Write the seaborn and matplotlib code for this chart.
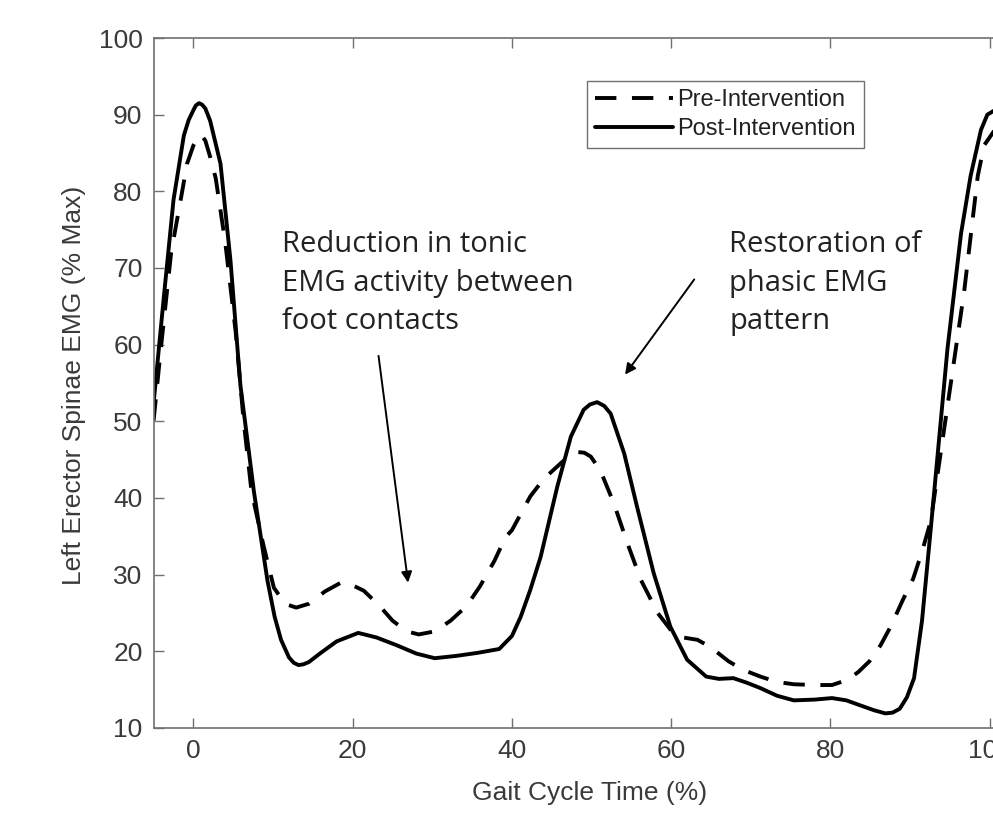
import numpy as np
import pandas as pd
import matplotlib
matplotlib.use("Agg")
import matplotlib.pyplot as plt
import seaborn as sns

# valores (Gait Cycle Time %, EMG % Max)
pre_x = [-5, -4.1, -2.8, -1.6, -0.8, 0, 0.67, 1.1, 1.5, 2.1, 2.8, 4.0, 5.3, 6.3, 7.3, 8.8, 10.1, 11.5,
         12.9, 14.5, 16.5, 18.6, 20, 21.4, 23.4, 25, 26.8, 28.3, 30.3, 32.3, 34.3, 36,
         37.8, 39.2, 40, 42.3, 44, 46.1, 47.2, 48.2, 49.1, 49.9, 51.1, 52.8, 54.5, 56.2, 58.3, 60.3,
         61.5, 63.3, 65, 67.2, 69, 71.2, 73.3, 75.4, 78, 80.2, 82.2, 83.5, 84.9, 86.3,
         87.6, 89, 90.4, 91.5, 92.6, 94.7, 96.8, 98.5, 99.3, 100.5, 101.5]
pre_y = [50.1, 59.4, 72, 78.9, 83.6, 86.0, 87.3, 87.2, 86.6, 84.5, 81.7, 73.3, 61.7, 50.1, 40.8, 33.8, 28.3, 26.2,
         25.7, 26.2, 27.8, 29.0, 28.6, 27.9, 25.9, 24.0, 22.6, 22.2, 22.6, 24.0, 25.9, 28.5,
         31.8, 34.9, 35.8, 40.2, 42.5, 44.5, 45.5, 46.0, 45.9, 45.4, 43.6, 39.3, 34.1, 29.3, 25.0, 22.3,
         21.8, 21.5, 20.5, 18.7, 17.6, 16.7, 16.0, 15.7, 15.6, 15.6, 16.3, 17.3, 18.7, 20.8,
         23.3, 26.5, 29.5, 33, 37, 52, 67, 82, 86, 87.8, 88]

post_x = [-5, -3.7, -2.5, -1.2, -0.6, 0, 0.3, 0.7, 1.1, 1.5, 2.1, 3.4, 4.65, 5.9, 7.6, 9.3, 10.2, 11, 12,
          12.6, 13.2, 13.8, 14.5, 16, 18, 20.7, 23, 25.5, 28, 30.3, 33, 35.7, 38.4, 40, 41.1, 42.3,
          43.6, 45.7, 47.4, 49, 49.8, 50.7, 51.6, 52.4, 54.1, 55.7, 57.8, 59.9, 62, 64.4, 66, 67.8,
          69.5, 71.2, 73.3, 75.4, 78, 80.2, 82, 83.6, 85.5, 86.9, 87.8, 88.7, 89.6, 90.5,
          91.5, 92.6, 94.7, 96.4, 97.6, 98.9, 99.7, 100.5, 101.5]
post_y = [52.4, 66.4, 78.9, 87.3, 89.3, 90.6, 91.2, 91.5, 91.3, 90.8, 89.2, 83.6, 71, 54.7, 40.8, 29.2, 24.5, 21.5, 19.2,
          18.5, 18.2, 18.3, 18.6, 19.8, 21.3, 22.4, 21.8, 20.8, 19.7, 19.1, 19.4, 19.8, 20.3, 22.0, 24.5, 28,
          32.3, 41.5, 48.0, 51.5, 52.2, 52.5, 52.0, 51.0, 45.8, 38.9, 30.2, 23.2, 18.9, 16.7, 16.4, 16.5,
          15.9, 15.2, 14.2, 13.6, 13.7, 13.9, 13.6, 13.0, 12.3, 11.9, 12.0, 12.5, 14, 16.5,
          24, 36, 59.5, 74.5, 82, 88, 90, 90.5, 90.6]

x_ticks = [0, 20, 40, 60, 80, 100]
y_ticks = [10, 20, 30, 40, 50, 60, 70, 80, 90, 100]

sns.set_style("ticks")
plt.rcParams['font.family'] = ['Liberation Sans', 'DejaVu Sans']

fig = plt.figure(figsize=(9.93, 8.14), dpi=100)
ax = fig.add_axes([0.1547, 0.1057, 0.85, 0.8476])

df_pre = pd.DataFrame({'x': pre_x, 'y': pre_y})
df_post = pd.DataFrame({'x': post_x, 'y': post_y})
sns.lineplot(data=df_pre, x='x', y='y', ax=ax, color='black', lw=2.8,
             sort=False, label='Pre-Intervention')
sns.lineplot(data=df_post, x='x', y='y', ax=ax, color='black', lw=2.8,
             sort=False, label='Post-Intervention')
ax.lines[0].set_dashes((5.5, 4))
for ln in ax.lines:
    ln.set_solid_joinstyle('round')
    ln.set_dash_joinstyle('round')

ax.set_xlim(-5, 101)
ax.set_ylim(10, 100)
ax.set_xticks(x_ticks)
ax.set_yticks(y_ticks)
ax.tick_params(direction='in', length=7, width=1, color='#707070',
               labelsize=19, labelcolor='#3a3a3a', top=True, pad=8)
for s in ax.spines.values():
    s.set_color('#707070')
    s.set_linewidth(1.2)

ax.set_xlabel('Gait Cycle Time (%)', fontsize=19, color='#3a3a3a')
ax.set_ylabel('Left Erector Spinae EMG (% Max)', fontsize=19, color='#3a3a3a')
ax.xaxis.set_label_coords(0.517, -0.077)
ax.yaxis.set_label_coords(-0.08, 0.497)

leg = ax.legend(loc='upper left', bbox_to_anchor=(0.513, 0.938), borderaxespad=0,
                fontsize=17, handlelength=3.3, handletextpad=0.2, fancybox=False,
                framealpha=1, edgecolor='#707070', borderpad=0.35, labelspacing=0.3)
leg.get_frame().set_linewidth(1.0)
for t in leg.get_texts():
    t.set_color('#222222')

# anotaciones
ax.text(11.1, 75.0, 'Reduction in tonic\nEMG activity between\nfoot contacts',
        fontsize=21, family='Open Sans', color='#222222', va='top', ha='left', linespacing=1.45)
ax.text(67.3, 75.0, 'Restoration of\nphasic EMG\npattern',
        fontsize=21, family='Open Sans', color='#222222', va='top', ha='left', linespacing=1.45)
ax.annotate('', xy=(27.0, 28.6), xytext=(23.2, 58.9),
            arrowprops=dict(arrowstyle='-|>', color='black', lw=1.4, mutation_scale=16))
ax.annotate('', xy=(54.0, 55.8), xytext=(63.1, 68.8),
            arrowprops=dict(arrowstyle='-|>', color='black', lw=1.4, mutation_scale=16))

fig.savefig('out.png', dpi=100)
